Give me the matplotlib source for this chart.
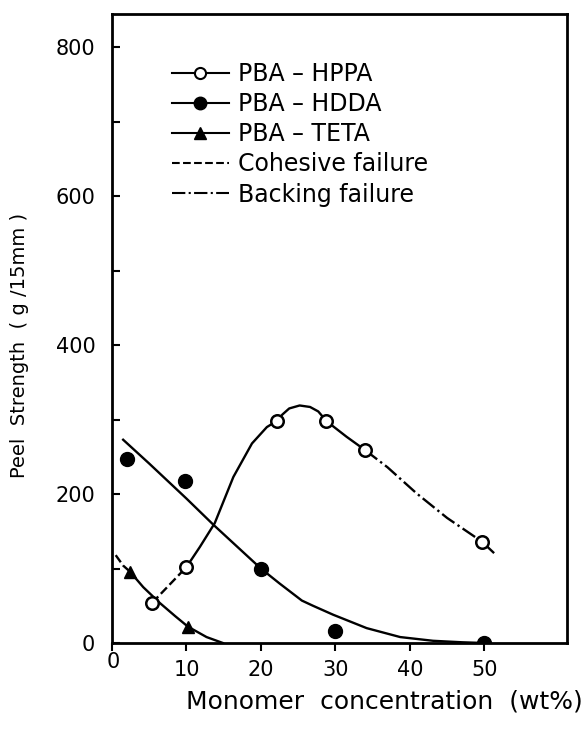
import numpy as np
import matplotlib
matplotlib.use('Agg')
import matplotlib.pyplot as plt
from matplotlib.lines import Line2D

# measured points
hppa_x = [5.4, 10, 22.1, 28.8, 34, 49.7]
hppa_y = [54, 102, 298, 298, 259, 136]
hdda_x = [2, 9.8, 20, 30, 50]
hdda_y = [247, 218, 99, 16, 0]
teta_x = [2.4, 10.2]
teta_y = [96, 22]

# hand drawn curves
hppa_coh_x = [5.4, 10]
hppa_coh_y = [54, 102]
hppa_fit_x = [10, 11.8, 13.8, 16.3, 18.8, 20.8, 22.1, 22.9, 23.8, 25.2, 26.6, 27.7, 28.8, 31.5, 34]
hppa_fit_y = [102, 129, 161, 223, 268, 290, 298, 307, 315, 319, 317, 311, 298, 277, 259]
hppa_back_x = [34, 37, 40.9, 45, 49.7, 51.6]
hppa_back_y = [259, 236, 201, 168, 136, 118]
hdda_fit_x = [1.5, 5, 10, 13.6, 20, 22.5, 25.5, 27, 29.7, 34.2, 38.7, 43.1, 47, 50]
hdda_fit_y = [273, 241, 194, 159, 100, 80, 57, 50, 38, 20, 8, 3, 1, 0]
teta_coh_x = [0.5, 1.5, 2.4]
teta_coh_y = [118, 104, 96]
teta_fit_x = [2.4, 4.2, 6.4, 8.5, 10.2, 12.7, 14.9]
teta_fit_y = [96, 75, 54, 36, 22, 8, 0]

xticks = [0, 10, 20, 30, 40, 50]
yticks = [0, 200, 400, 600, 800]
labels = ['PBA – HPPA', 'PBA – HDDA', 'PBA – TETA', 'Cohesive failure', 'Backing failure']

plt.rcParams['font.family'] = 'DejaVu Sans'
fig = plt.figure(figsize=(5.82, 7.42), dpi=100)
ax = fig.add_axes([0.1924, 0.1334, 0.7818, 0.848])

lw = 1.7
ax.plot(hppa_coh_x, hppa_coh_y, 'k--', lw=lw)
ax.plot(hppa_fit_x, hppa_fit_y, 'k-', lw=lw)
ax.plot(hppa_back_x, hppa_back_y, 'k-.', lw=lw)
ax.plot(hdda_fit_x, hdda_fit_y, 'k-', lw=lw)
ax.plot(teta_coh_x, teta_coh_y, 'k--', lw=lw)
ax.plot(teta_fit_x, teta_fit_y, 'k-', lw=lw)

ax.plot(hppa_x, hppa_y, 'o', ms=9, mfc='white', mec='k', mew=1.8, zorder=5)
ax.plot(hdda_x, hdda_y, 'o', ms=10, mfc='k', mec='k', zorder=5)
ax.plot(teta_x, teta_y, '^', ms=9, mfc='k', mec='k', zorder=5)

ax.set_xlim(0, 61.1)
ax.set_ylim(0, 845)
ax.set_xticks(xticks)
ax.set_xticklabels(['' if v == 0 else str(v) for v in xticks])
ax.set_yticks(yticks)
ax.set_yticks([100, 300, 500, 700], minor=True)
ax.tick_params(axis='x', direction='out', length=6, width=1.5, labelsize=15, pad=6)
ax.tick_params(axis='y', which='both', direction='in', length=6, width=1.5, labelsize=15, pad=12)
for s in ax.spines.values():
    s.set_linewidth(2)

fig.text(113 / 582, 1 - 662 / 742, '0', fontsize=15, ha='center', va='center')
fig.text(20 / 582, 1 - 345 / 742, 'Peel  Strength  ( g /15mm )', rotation=90,
         fontsize=14, ha='center', va='center')
fig.text(384 / 582, 1 - 702 / 742, 'Monomer  concentration  (wt%)',
         fontsize=18, ha='center', va='center')

handles = [
    Line2D([], [], color='k', lw=1.5, marker='o', ms=8, mfc='white', mew=1.5),
    Line2D([], [], color='k', lw=1.5, marker='o', ms=9, mfc='k'),
    Line2D([], [], color='k', lw=1.5, marker='^', ms=8, mfc='k'),
    Line2D([], [], color='k', lw=1.5, ls='--'),
    Line2D([], [], color='k', lw=1.5, ls='-.'),
]
ax.legend(handles, labels, loc='upper left', bbox_to_anchor=(172 / 582, 1 - 62 / 742),
          bbox_transform=fig.transFigure, frameon=False, fontsize=17,
          handlelength=2.4, handletextpad=0.4, labelspacing=0.26, borderpad=0,
          borderaxespad=0)

fig.savefig('out.png', dpi=100)
